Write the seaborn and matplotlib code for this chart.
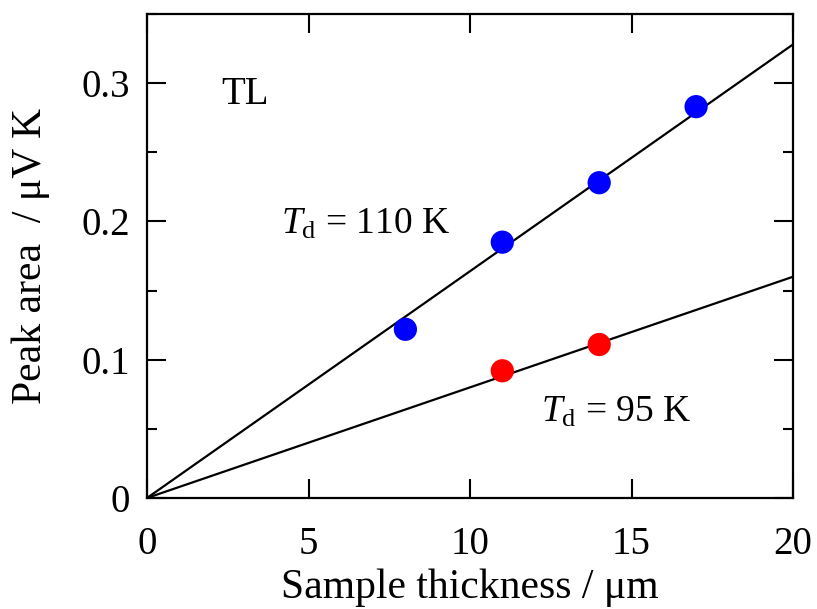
import numpy as np
import pandas as pd
import matplotlib
matplotlib.use("Agg")
import matplotlib.pyplot as plt
import seaborn as sns
from matplotlib.ticker import MultipleLocator

# data
thick_110 = [8, 11, 14, 17]
area_110 = [0.122, 0.185, 0.228, 0.283]
thick_95 = [11, 14]
area_95 = [0.092, 0.111]
fit_x = [0, 20]
fit_110 = [0, 0.328]
fit_95 = [0, 0.160]
xticks = [0, 5, 10, 15, 20]
xticklabels = ["0", "5", "10", "15", "20"]
yticks = [0, 0.1, 0.2, 0.3]
yticklabels = ["0", "0.1", "0.2", "0.3"]

sns.set_theme(style="white")
plt.rcParams['font.family'] = ['Liberation Serif', 'DejaVu Serif']
plt.rcParams['mathtext.fontset'] = 'custom'
plt.rcParams['mathtext.it'] = 'Liberation Serif:italic'
plt.rcParams['mathtext.rm'] = 'Liberation Serif'
plt.rcParams['text.color'] = 'black'
plt.rcParams['axes.labelcolor'] = 'black'

fig = plt.figure(figsize=(8.17, 6.09), dpi=100)
ax = fig.add_axes([147/817, 1-498/609, (793-147)/817, (498-14)/609])

df_fit = pd.DataFrame({"x": fit_x + fit_x, "y": fit_110 + fit_95,
                       "g": ["110"]*2 + ["95"]*2})
sns.lineplot(data=df_fit, x="x", y="y", units="g", estimator=None,
             color="black", lw=1.6, ax=ax, legend=False)
sns.scatterplot(x=thick_110, y=area_110, color="#0000ff", s=280,
                edgecolor="none", ax=ax, zorder=3)
sns.scatterplot(x=thick_95, y=area_95, color="#ff0000", s=280,
                edgecolor="none", ax=ax, zorder=3)

ax.set_xlim(0, 20)
ax.set_ylim(0, 0.35)
ax.yaxis.set_minor_locator(MultipleLocator(0.05))
ax.set_yticks(yticks)
ax.set_yticklabels(yticklabels)
ax.set_xticks(xticks)
ax.set_xticklabels(xticklabels)
ax.tick_params(which="both", direction="in", top=True, right=True,
               left=True, bottom=True, labelsize=28, width=1.5, colors="black")
ax.tick_params(which="major", length=14)
ax.tick_params(axis="x", which="major", pad=20)
ax.tick_params(axis="y", which="major", pad=12)
ax.tick_params(which="minor", length=7)
for s in ax.spines.values():
    s.set_color("black")
    s.set_linewidth(1.6)

ax.set_xlabel("Sample thickness / μm", fontsize=30, labelpad=4)
ax.set_ylabel("Peak area  / μV K", fontsize=30, labelpad=23)

ax.text(2.3, 0.292, "TL", fontsize=28, ha="left", va="center")
ax.text(4.15, 0.198, r"$T_{\mathrm{d}}$ = 110 K", fontsize=27, ha="left", va="center")
ax.text(12.2, 0.062, r"$T_{\mathrm{d}}$ = 95 K", fontsize=27, ha="left", va="center")

fig.savefig("out.png", dpi=100)
